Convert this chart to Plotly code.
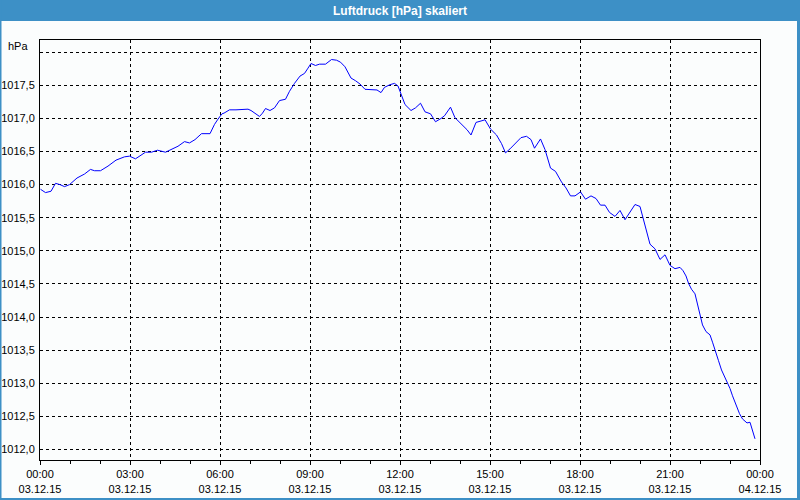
import plotly.graph_objects as go
from datetime import datetime, timedelta

# ---- data ----
times = ["00:01","00:11","00:22","00:31","00:40","00:49","00:59","01:14","01:29","01:41",
         "01:49","02:01","02:16","02:32","02:49","02:59","03:11","03:19","03:31","03:43",
         "03:55","04:11","04:23","04:36","04:49","04:59","05:10","05:23","05:40","05:49",
         "05:56","06:04","06:08","06:19","06:32","06:46","06:56","07:02","07:11","07:19",
         "07:25","07:31","07:40","07:49","07:59","08:11","08:19","08:29","08:40","08:49",
         "08:56","09:02","09:11","09:19","09:31","09:43","09:53","10:01","10:10","10:22",
         "10:31","10:40","10:50","11:02","11:14","11:22","11:29","11:40","11:49","11:56",
         "12:04","12:10","12:22","12:31","12:41","12:50","13:01","13:11","13:22","13:29",
         "13:41","13:50","14:06","14:14","14:22","14:26","14:32","14:46","14:50","15:01",
         "15:13","15:23","15:31","15:40","15:53","16:02","16:13","16:22","16:29","16:41",
         "16:50","17:01","17:11","17:23","17:32","17:41","17:50","18:01","18:11","18:22",
         "18:32","18:41","18:50","18:59","19:10","19:20","19:30","19:40","19:50","20:00",
         "20:05","20:12","20:20","20:30","20:40","20:50","21:00","21:10","21:20","21:26",
         "21:32","21:37","21:43","21:50","21:55","22:00","22:05","22:12","22:20","22:25",
         "22:30","22:37","22:43","22:52","23:00","23:05","23:12","23:19","23:25","23:34",
         "23:40","23:43","23:47","23:50"]
pressure = [1015.93,1015.88,1015.90,1016.02,1016.00,1015.97,1016.00,1016.10,1016.16,1016.23,
            1016.21,1016.21,1016.28,1016.37,1016.42,1016.43,1016.39,1016.43,1016.49,1016.49,
            1016.52,1016.49,1016.53,1016.58,1016.65,1016.63,1016.68,1016.77,1016.77,1016.91,
            1016.99,1017.07,1017.08,1017.13,1017.13,1017.13,1017.14,1017.12,1017.07,1017.03,
            1017.08,1017.15,1017.12,1017.16,1017.27,1017.29,1017.41,1017.53,1017.64,1017.68,
            1017.76,1017.83,1017.80,1017.82,1017.82,1017.89,1017.88,1017.85,1017.78,1017.61,
            1017.57,1017.52,1017.44,1017.43,1017.43,1017.39,1017.47,1017.51,1017.53,1017.49,
            1017.33,1017.21,1017.12,1017.16,1017.23,1017.10,1017.07,1016.95,1017.00,1017.04,
            1017.17,1017.01,1016.89,1016.83,1016.75,1016.84,1016.94,1016.97,1016.98,1016.84,
            1016.75,1016.62,1016.48,1016.54,1016.65,1016.71,1016.73,1016.68,1016.55,1016.69,
            1016.53,1016.25,1016.20,1016.04,1015.95,1015.83,1015.83,1015.89,1015.78,1015.83,
            1015.79,1015.69,1015.69,1015.58,1015.52,1015.61,1015.47,1015.58,1015.70,1015.67,
            1015.52,1015.32,1015.10,1015.03,1014.87,1014.94,1014.78,1014.73,1014.75,1014.70,
            1014.62,1014.51,1014.42,1014.35,1014.20,1014.02,1013.88,1013.78,1013.73,1013.62,
            1013.49,1013.34,1013.20,1013.06,1012.92,1012.81,1012.66,1012.54,1012.46,1012.40,
            1012.41,1012.34,1012.24,1012.16]

x_tick_hours = [0, 3, 6, 9, 12, 15, 18, 21, 24]
x_tick_time = ["00:00","03:00","06:00","09:00","12:00","15:00","18:00","21:00","00:00"]
x_tick_date = ["03.12.15"]*8 + ["04.12.15"]
y_tick_vals = [1012.0,1012.5,1013.0,1013.5,1014.0,1014.5,1015.0,1015.5,1016.0,1016.5,1017.0,1017.5,1018.0]
y_tick_text = ["1012,0","1012,5","1013,0","1013,5","1014,0","1014,5","1015,0","1015,5",
               "1016,0","1016,5","1017,0","1017,5",""]

title_text = "Luftdruck [hPa] skaliert"
unit_text = "hPa"

base = datetime(2015, 12, 3)
xs = [base + timedelta(hours=int(t[:2]), minutes=int(t[3:])) for t in times]
tickvals = [base + timedelta(hours=h) for h in x_tick_hours]
ticktext = [f"{a}<br>{b}" for a, b in zip(x_tick_time, x_tick_date)]

FONT = "Liberation Sans"
BG = "#fbfdfd"
BLUE = "#3d90c6"

fig = go.Figure()
fig.add_trace(go.Scatter(x=xs, y=pressure, mode="lines",
                         line=dict(color="#0000ff", width=1), hoverinfo="skip"))

W, H = 800, 500
L, R, T, B = 40, 40, 40, 40
pw, ph = W - L - R, H - T - B
def px(x): return (x - L) / pw
def py(y): return (H - B - y) / ph

shapes = [
    dict(type="rect", xref="paper", yref="paper", x0=px(0), x1=px(800), y0=py(21), y1=py(0),
         fillcolor=BLUE, line=dict(width=0), layer="above"),
    dict(type="rect", xref="paper", yref="paper", x0=px(0), x1=px(1.5), y0=py(500), y1=py(0),
         fillcolor=BLUE, line=dict(width=0), layer="above"),
    dict(type="rect", xref="paper", yref="paper", x0=px(797), x1=px(800), y0=py(500), y1=py(0),
         fillcolor=BLUE, line=dict(width=0), layer="above"),
    dict(type="rect", xref="paper", yref="paper", x0=px(0), x1=px(800), y0=py(500), y1=py(498),
         fillcolor=BLUE, line=dict(width=0), layer="above"),
]

fig.update_layout(
    width=W, height=H, margin=dict(l=L, r=R, t=T, b=B, autoexpand=False),
    paper_bgcolor=BG, plot_bgcolor=BG, showlegend=False,
    font=dict(family=FONT, size=11, color="#000000"),
    shapes=shapes,
    annotations=[
        dict(text=f"<b>{title_text}</b>", xref="paper", yref="paper", x=px(400), y=py(10.5),
             xanchor="center", yanchor="middle", showarrow=False,
             font=dict(family=FONT, size=12, color="#ffffff")),
        dict(text=unit_text, xref="paper", yref="paper", x=px(17.5), y=py(46),
             xanchor="center", yanchor="middle", showarrow=False,
             font=dict(family=FONT, size=11, color="#000000")),
    ],
)

fig.update_xaxes(
    type="date", range=[base, base + timedelta(hours=24)], automargin=False,
    tickvals=tickvals, ticktext=ticktext, ticks="outside", ticklen=4, tickcolor="#000",
    showgrid=True, gridcolor="#000000", gridwidth=1, griddash="3px,3px",
    showline=True, linecolor="#000000", linewidth=1, mirror=True, zeroline=False,
    minor=dict(dtick=3600000, ticks="outside", ticklen=3, tickcolor="#000", showgrid=False),
    tickfont=dict(family=FONT, size=11),
)
fig.update_yaxes(
    range=[1011.84, 1018.185], tickvals=y_tick_vals, ticktext=y_tick_text, ticks="",
    automargin=False,
    showgrid=True, gridcolor="#000000", gridwidth=1, griddash="3px,3px",
    showline=True, linecolor="#000000", linewidth=1, mirror=True, zeroline=False,
    tickfont=dict(family=FONT, size=11), ticklabelstandoff=2,
)

fig.write_html("out.html", config={"displayModeBar": False},
               post_script="document.body.style.margin='0';document.body.style.overflow='hidden';")
